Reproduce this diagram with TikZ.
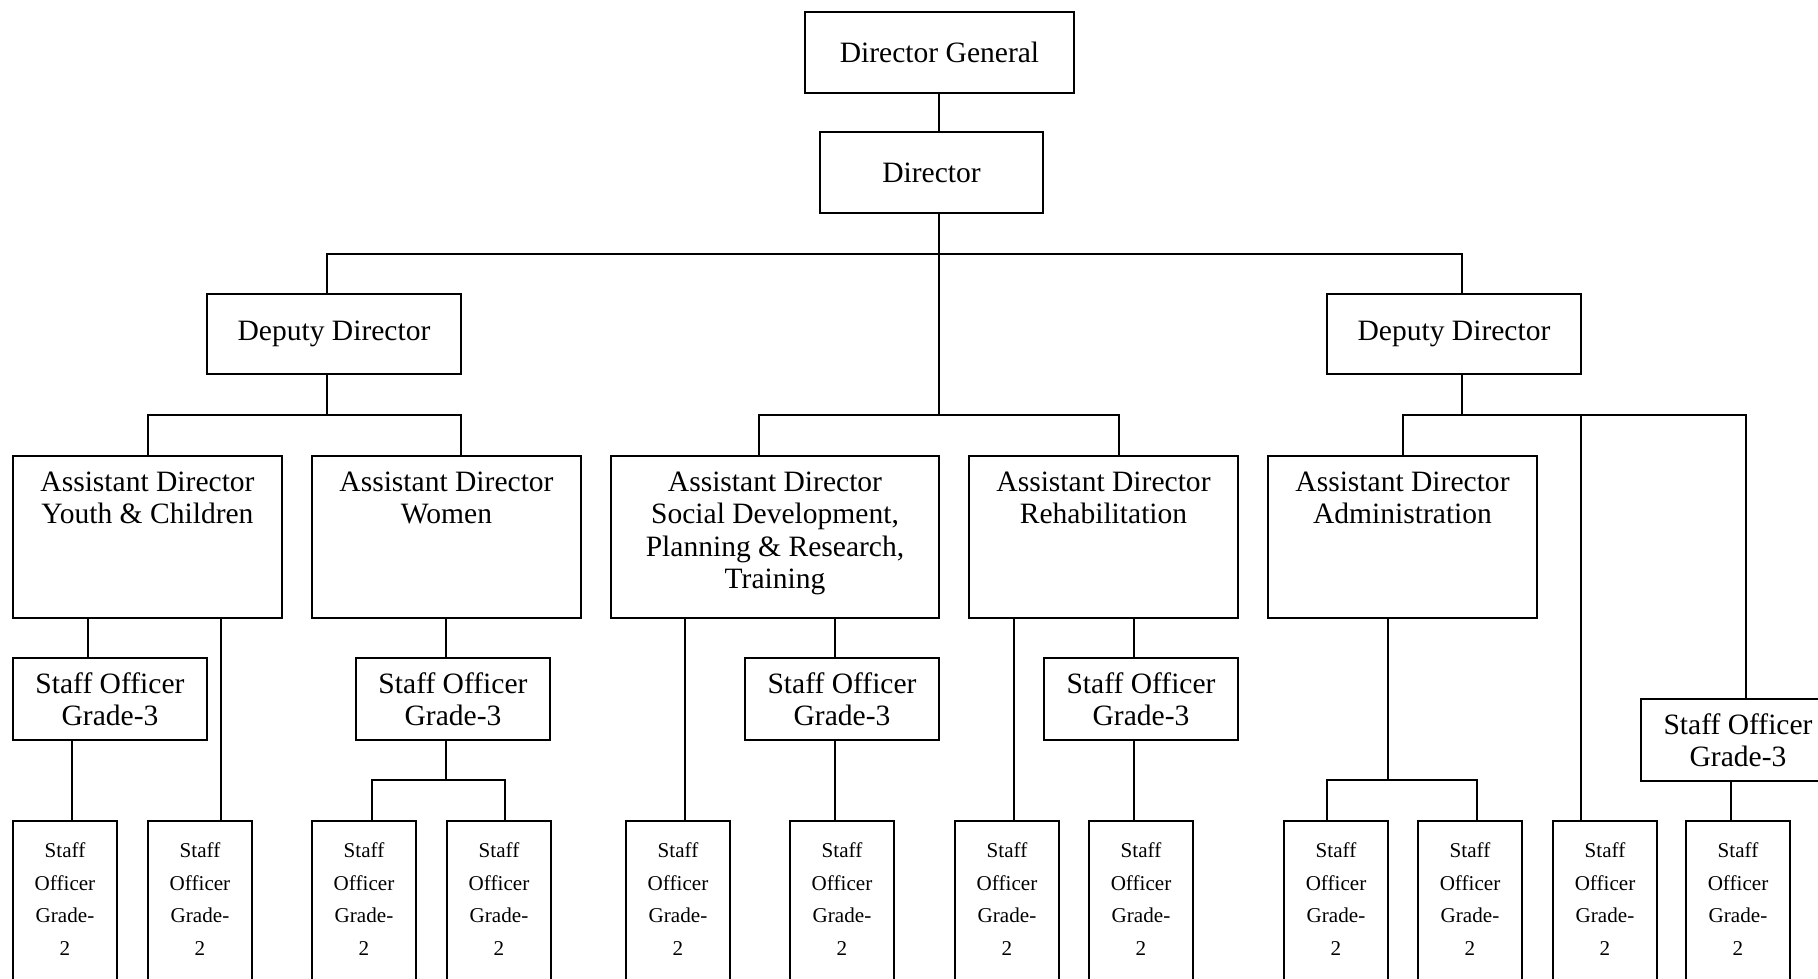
\documentclass[tikz,border=0pt]{standalone}
\usepackage{fontspec}
\setmainfont{Liberation Serif}
\usetikzlibrary{calc}

\tikzset{
  post/.style={draw, line width=0.6pt, inner sep=0pt, align=center,
    font=\fontsize{8.4pt}{9.25pt}\selectfont},
  adbox/.style={post, minimum width=26.9mm, minimum height=16.2mm},
  adtext/.style={anchor=north, inner sep=0pt, align=center, yshift=-1.6mm,
    font=\fontsize{8.4pt}{9.25pt}\selectfont},
  gradethree/.style={post, minimum width=19.4mm, minimum height=8.2mm},
  gradetwo/.style={post, anchor=north, minimum width=10.4mm, minimum height=18mm,
    label={[gtext]north:{Staff\\Officer\\Grade-\\2}}},
  gtext/.style={anchor=north, inner sep=0pt, align=center, yshift=-2.2mm,
    font=\fontsize{6pt}{9.25pt}\selectfont},
  link/.style={line width=0.6pt},
}

\begin{document}
\begin{tikzpicture}[x=0.01cm, y=-0.01cm]
    \useasboundingbox (0,0) rectangle (1818,978);
    % heads
    \node[post, minimum width=26.9mm, minimum height=8.1mm] (dg) at (939.5,52.5) {Director General};
    \node[post, minimum width=22.3mm, minimum height=8.1mm] (dir) at (931.5,172.5) {Director};
    \node[post, minimum width=25.4mm, minimum height=8mm] (ddL) at (334,334) {Deputy Director};
    \node[post, minimum width=25.4mm, minimum height=8mm] (ddR) at (1454,334) {Deputy Director};
    % assistant directors
    \node[adbox, label={[adtext]north:{Assistant Director\\Youth \& Children}}] (adY) at (147.5,537) {};
    \node[adbox, label={[adtext]north:{Assistant Director\\Women}}] (adW) at (446.5,537) {};
    \node[adbox, minimum width=32.8mm, label={[adtext]north:{Assistant Director\\Social Development,\\Planning \& Research,\\Training}}] (adS) at (775,537) {};
    \node[adbox, label={[adtext]north:{Assistant Director\\Rehabilitation}}] (adR) at (1103.5,537) {};
    \node[adbox, label={[adtext]north:{Assistant Director\\Administration}}] (adA) at (1402.5,537) {};
    % staff officers grade 3
    \node[gradethree] (soY) at (110,699) {Staff Officer\\Grade-3};
    \node[gradethree] (soW) at (453,699) {Staff Officer\\Grade-3};
    \node[gradethree] (soS) at (842,699) {Staff Officer\\Grade-3};
    \node[gradethree] (soR) at (1141,699) {Staff Officer\\Grade-3};
    \node[gradethree] (soX) at (1738,740) {Staff Officer\\Grade-3};
    % staff officers grade 2
    \foreach \x [count=\i] in {65,200,364,499,678,842,1007,1141,1336,1470,1605,1738}
      \node[gradetwo] (g\i) at (\x,820) {};

    % top links
    \coordinate (busL) at (327,254);
    \coordinate (busR) at (1462,254);
    \coordinate (busC) at (939,415);
    \draw[link] (dg.south -| busC) -- (dir.north -| busC);
    \draw[link] (dir.south -| busC) -- (busC);
    \draw[link] (ddL.north -| busL) |- (busR) -- (ddR.north -| busR);
    % left deputy
    \coordinate (l0) at (327,415);
    \coordinate (l1) at (148,415);
    \coordinate (l2) at (461,415);
    \draw[link] (ddL.south -| l0) -- (l0);
    \draw[link] (adY.north -| l1) |- (l2) -- (adW.north -| l2);
    % middle
    \coordinate (m1) at (759,415);
    \coordinate (m2) at (1119,415);
    \draw[link] (adS.north -| m1) |- (m2) -- (adR.north -| m2);
    % right deputy
    \coordinate (r1) at (1403,415);
    \coordinate (r2) at (1581,415);
    \coordinate (r3) at (1746,415);
    \draw[link] (ddR.south -| busR) -- (busR |- r1);
    \draw[link] (adA.north -| r1) |- (r3) -- (soX.north -| r3);
    \draw[link] (r2) -- (g11.north -| r2);

    % youth & children
    \coordinate (y1) at (88,0);
    \coordinate (y2) at (72,0);
    \coordinate (y3) at (221,0);
    \draw[link] (adY.south -| y1) -- (soY.north -| y1);
    \draw[link] (soY.south -| y2) -- (g1.north -| y2);
    \draw[link] (adY.south -| y3) -- (g2.north -| y3);
    % women
    \coordinate (w0) at (446,780);
    \coordinate (w1) at (372,780);
    \coordinate (w2) at (505,780);
    \draw[link] (adW.south -| w0) -- (soW.north -| w0);
    \draw[link] (soW.south -| w0) -- (w0);
    \draw[link] (g3.north -| w1) |- (w2) -- (g4.north -| w2);
    % social development
    \coordinate (s1) at (685,0);
    \coordinate (s2) at (835,0);
    \draw[link] (adS.south -| s1) -- (g5.north -| s1);
    \draw[link] (adS.south -| s2) -- (soS.north -| s2);
    \draw[link] (soS.south -| s2) -- (g6.north -| s2);
    % rehabilitation
    \coordinate (h1) at (1014,0);
    \coordinate (h2) at (1134,0);
    \draw[link] (adR.south -| h1) -- (g7.north -| h1);
    \draw[link] (adR.south -| h2) -- (soR.north -| h2);
    \draw[link] (soR.south -| h2) -- (g8.north -| h2);
    % administration
    \coordinate (a0) at (1388,780);
    \coordinate (a1) at (1327,780);
    \coordinate (a2) at (1477,780);
    \draw[link] (adA.south -| a0) -- (a0);
    \draw[link] (g9.north -| a1) |- (a2) -- (g10.north -| a2);
    \coordinate (x1) at (1731,0);
    \draw[link] (soX.south -| x1) -- (g12.north -| x1);
\end{tikzpicture}
\end{document}
